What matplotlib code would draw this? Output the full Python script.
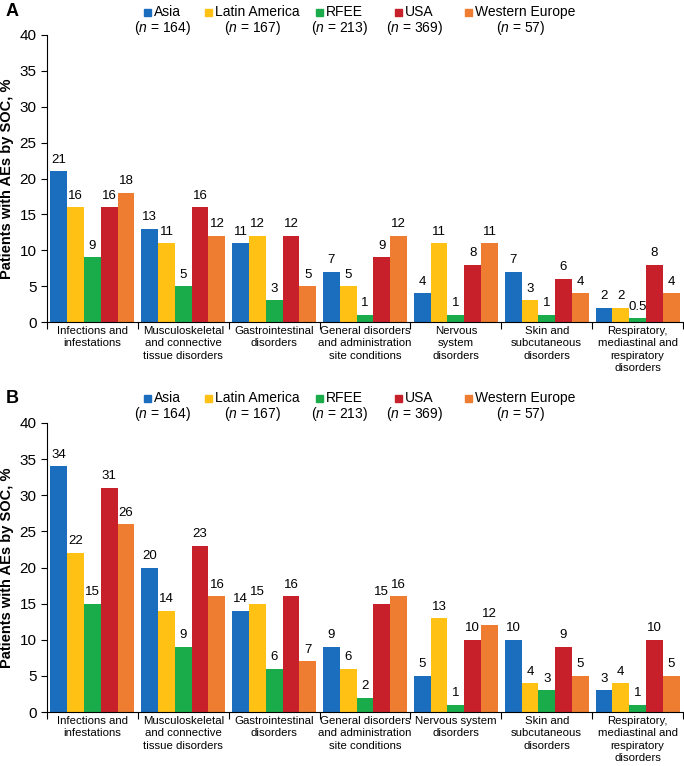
import matplotlib.pyplot as plt
import numpy as np

plt.rcParams['font.family'] = ['Liberation Sans', 'DejaVu Sans']
plt.rcParams['mathtext.fontset'] = 'custom'
plt.rcParams['mathtext.rm'] = 'Liberation Sans'
plt.rcParams['mathtext.it'] = 'Liberation Sans:italic'

# regions and sample sizes
regions = ['Asia', 'Latin America', 'RFEE', 'USA', 'Western Europe']
region_n = [164, 167, 213, 369, 57]
colors = ['#1B6DBE', '#FFC114', '#1AAB4B', '#C8202B', '#EE7D31']

cats_a = ['Infections and\ninfestations', 'Musculoskeletal\nand connective\ntissue disorders',
          'Gastrointestinal\ndisorders', 'General disorders\nand administration\nsite conditions',
          'Nervous\nsystem\ndisorders', 'Skin and\nsubcutaneous\ndisorders',
          'Respiratory,\nmediastinal and\nrespiratory\ndisorders']
cats_b = ['Infections and\ninfestations', 'Musculoskeletal\nand connective\ntissue disorders',
          'Gastrointestinal\ndisorders', 'General disorders\nand administration\nsite conditions',
          'Nervous system\ndisorders', 'Skin and\nsubcutaneous\ndisorders',
          'Respiratory,\nmediastinal and\nrespiratory\ndisorders']

# panel A values per region (%)
asia_a = [21, 13, 11, 7, 4, 7, 2]
latam_a = [16, 11, 12, 5, 11, 3, 2]
rfee_a = [9, 5, 3, 1, 1, 1, 0.5]
usa_a = [16, 16, 12, 9, 8, 6, 8]
weu_a = [18, 12, 5, 12, 11, 4, 4]

# panel B values per region (%)
asia_b = [34, 20, 14, 9, 5, 10, 3]
latam_b = [22, 14, 15, 6, 13, 4, 4]
rfee_b = [15, 9, 6, 2, 1, 3, 1]
usa_b = [31, 23, 16, 15, 10, 9, 10]
weu_b = [26, 16, 7, 16, 12, 5, 5]

W, H = 684, 766
fig = plt.figure(figsize=(W / 100, H / 100), dpi=100)


def fmt(v):
    return '%g' % v


def panel(ax, cats, series, letter, top_px):
    n = len(cats)
    x = np.arange(n)
    bw = 0.185
    for i, vals in enumerate(series):
        pos = x + (i - 2) * bw
        ax.bar(pos, vals, width=bw, color=colors[i], linewidth=0)
        for p, v in zip(pos, vals):
            ax.annotate(fmt(v), (p, v), xytext=(0, 4), textcoords='offset points',
                        ha='center', va='bottom', fontsize=9.5)
    ax.set_xlim(-0.5, n - 0.5)
    ax.set_ylim(0, 40)
    ax.set_yticks(range(0, 41, 5))
    ax.tick_params(axis='y', labelsize=11, length=4, direction='out')
    ax.set_xticks(np.arange(-0.5, n, 1.0))
    ax.set_xticklabels([])
    ax.set_xticks(x, minor=True)
    ax.set_xticklabels(cats, minor=True, fontsize=8.2, linespacing=1.28)
    ax.tick_params(axis='x', which='major', length=5, direction='out')
    ax.tick_params(axis='x', which='minor', length=0, pad=3)
    for s in ['top', 'right']:
        ax.spines[s].set_visible(False)
    ax.set_ylabel('Patients with AEs by SOC, %', fontsize=10.5, fontweight='bold', labelpad=4)

    # panel letter
    fig.text(6 / W, 1 - top_px / H, letter, fontsize=13, fontweight='bold', va='center')
    # legend
    centers = [163, 253, 340, 415, 521]
    for c, name, nn, col in zip(centers, regions, region_n, colors):
        t = fig.text(c / W + 0.006, 1 - top_px / H, name, fontsize=10, ha='center', va='center')
        fig.text(c / W, 1 - (top_px + 16) / H, '($\\it{n}$ = %d)' % nn, fontsize=10,
                 ha='center', va='center')
        fig.canvas.draw()
        bb = t.get_window_extent()
        fig.patches.append(plt.Rectangle(((bb.x0 - 10) / W, (bb.y0 + bb.height / 2 - 4) / H),
                                         7 / W, 7 / H, color=col, transform=fig.transFigure,
                                         figure=fig))


ax_a = fig.add_axes([47 / W, 1 - 322 / H, 636 / W, 287 / H])
panel(ax_a, cats_a, [asia_a, latam_a, rfee_a, usa_a, weu_a], 'A', 12)
ax_b = fig.add_axes([47 / W, 1 - 712 / H, 636 / W, 289 / H])
panel(ax_b, cats_b, [asia_b, latam_b, rfee_b, usa_b, weu_b], 'B', 398)

fig.savefig('out.png', dpi=100)
